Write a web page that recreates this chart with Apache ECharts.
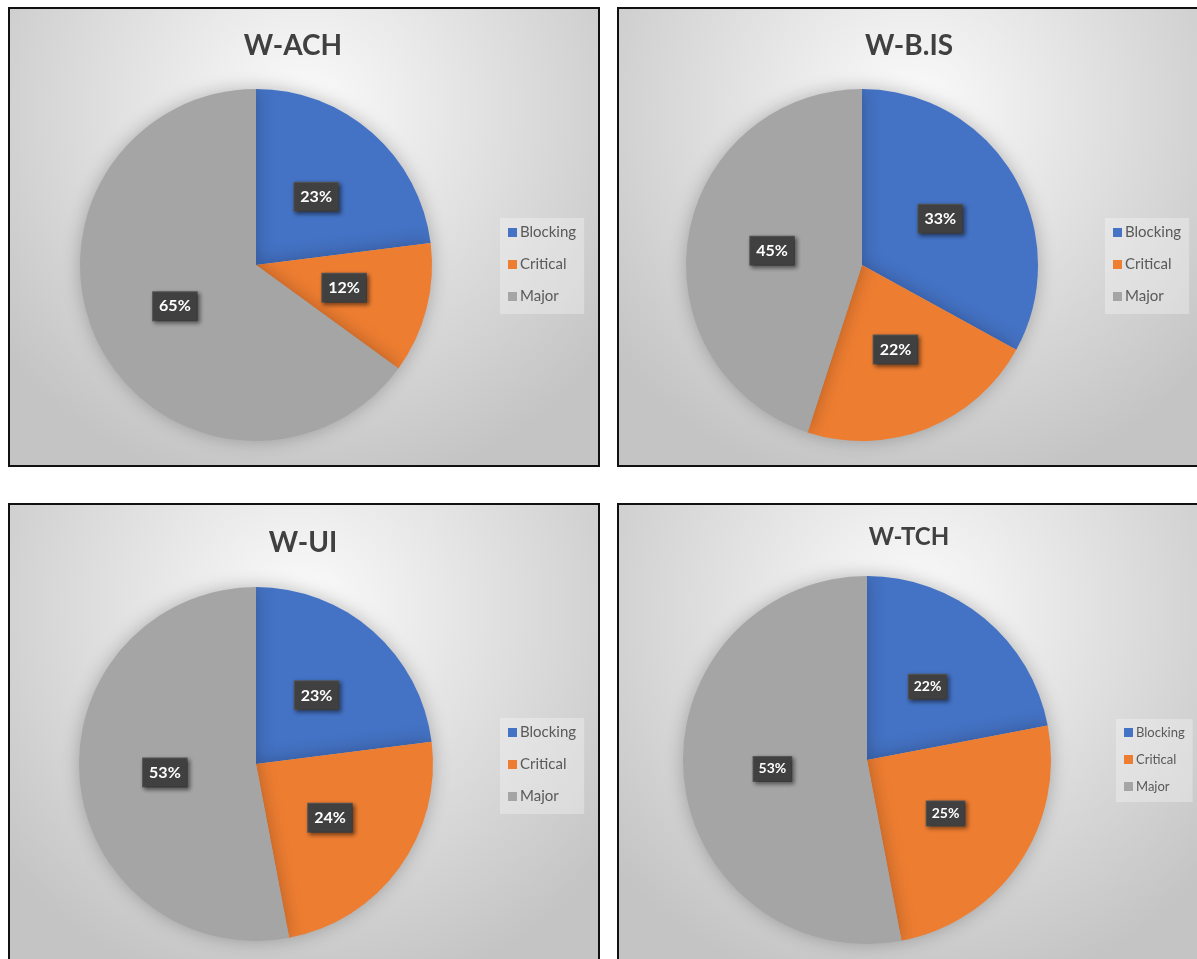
<!DOCTYPE html>
<html>
<head>
<meta charset="utf-8">
<script src="https://cdn.jsdelivr.net/npm/echarts@6/dist/echarts.min.js"></script>
<style>
    body { margin: 0; background: #ffffff; width: 1197px; height: 959px; overflow: hidden; position: relative; }
    .panel { position: absolute; box-sizing: border-box; border: 2px solid #111111; }
</style>
</head>
<body>
<div class="panel" id="pie-ach" style="left:8px; top:7px; width:592px; height:460px;"></div>
<div class="panel" id="pie-bis" style="left:617px; top:7px; width:592px; height:460px;"></div>
<div class="panel" id="pie-ui" style="left:8px; top:503px; width:592px; height:470px;"></div>
<div class="panel" id="pie-tch" style="left:617px; top:503px; width:592px; height:470px;"></div>
<script>
// 缺陷等级分布饼图
var categories = ['Blocking', 'Critical', 'Major'];
var colors = ['#4472C4', '#ED7D31', '#A5A5A5'];

var achValues = [23, 12, 65];
var bisValues = [33, 22, 45];
var uiValues = [23, 24, 53];
var tchValues = [22, 25, 53];

function buildOption(cfg) {
    return {
        backgroundColor: {
            type: 'radial',
            x: 0.5,
            y: 0.22,
            r: 0.85,
            colorStops: [{
                offset: 0, color: '#fbfbfb'
            }, {
                offset: 1, color: '#c4c4c4'
            }],
            globalCoord: false
        },
        color: colors,
        graphic: [{
            type: 'text',
            x: cfg.titleX,
            y: cfg.titleY,
            style: {
                text: cfg.title,
                fill: '#404040',
                fontFamily: 'Lato',
                fontWeight: 'bold',
                fontSize: cfg.titleSize,
                textAlign: 'center',
                textVerticalAlign: 'middle'
            }
        }],
        legend: {
            orient: 'vertical',
            left: cfg.legendX,
            top: cfg.legendY,
            data: categories,
            icon: 'rect',
            itemWidth: 9,
            itemHeight: 9,
            itemGap: cfg.small ? 14 : 17,
            padding: cfg.small ? [7, 8, 9, 8] : [7, 8, 10, 8],
            backgroundColor: 'rgba(255,255,255,0.3)',
            textStyle: {
                color: '#595959',
                fontFamily: 'Lato',
                fontSize: cfg.small ? 13 : 15,
                padding: [0, 0, 0, -2]
            }
        },
        series: [{
            name: cfg.title,
            type: 'pie',
            center: cfg.center,
            radius: cfg.radius,
            startAngle: 90,
            clockwise: true,
            silent: true,
            itemStyle: {
                shadowBlur: 18,
                shadowColor: 'rgba(0,0,0,0.25)'
            },
            label: {
                show: true,
                position: 'inside',
                formatter: '{c}%',
                color: '#FFFFFF',
                fontFamily: 'Lato',
                fontWeight: 'bold',
                fontSize: cfg.small ? 14 : 16,
                backgroundColor: '#404040',
                borderColor: '#595959',
                borderWidth: 1,
                padding: cfg.small ? [5, 5] : [6, 6],
                shadowColor: 'rgba(0,0,0,0.45)',
                shadowBlur: 4,
                shadowOffsetX: 2,
                shadowOffsetY: 2
            },
            labelLine: { show: false },
            data: categories.map(function (name, i) {
                return { name: name, value: cfg.values[i] };
            })
        }]
    };
}

var achChart = echarts.init(document.getElementById('pie-ach'));
achChart.setOption(buildOption({
    title: 'W-ACH', titleX: 283, titleY: 37, titleSize: 28,
    values: achValues, center: [246, 256], radius: 176,
    legendX: 490, legendY: 209
}));

var bisChart = echarts.init(document.getElementById('pie-bis'));
bisChart.setOption(buildOption({
    title: 'W-B.IS', titleX: 290, titleY: 37, titleSize: 28,
    values: bisValues, center: [243, 256], radius: 176,
    legendX: 486, legendY: 209
}));

var uiChart = echarts.init(document.getElementById('pie-ui'));
uiChart.setOption(buildOption({
    title: 'W-UI', titleX: 293, titleY: 38, titleSize: 28,
    values: uiValues, center: [246, 259], radius: 177,
    legendX: 490, legendY: 213
}));

var tchChart = echarts.init(document.getElementById('pie-tch'));
tchChart.setOption(buildOption({
    title: 'W-TCH', titleX: 290, titleY: 32, titleSize: 24,
    values: tchValues, center: [248, 255], radius: 184,
    legendX: 497, legendY: 214, small: true
}));
</script>
</body>
</html>
